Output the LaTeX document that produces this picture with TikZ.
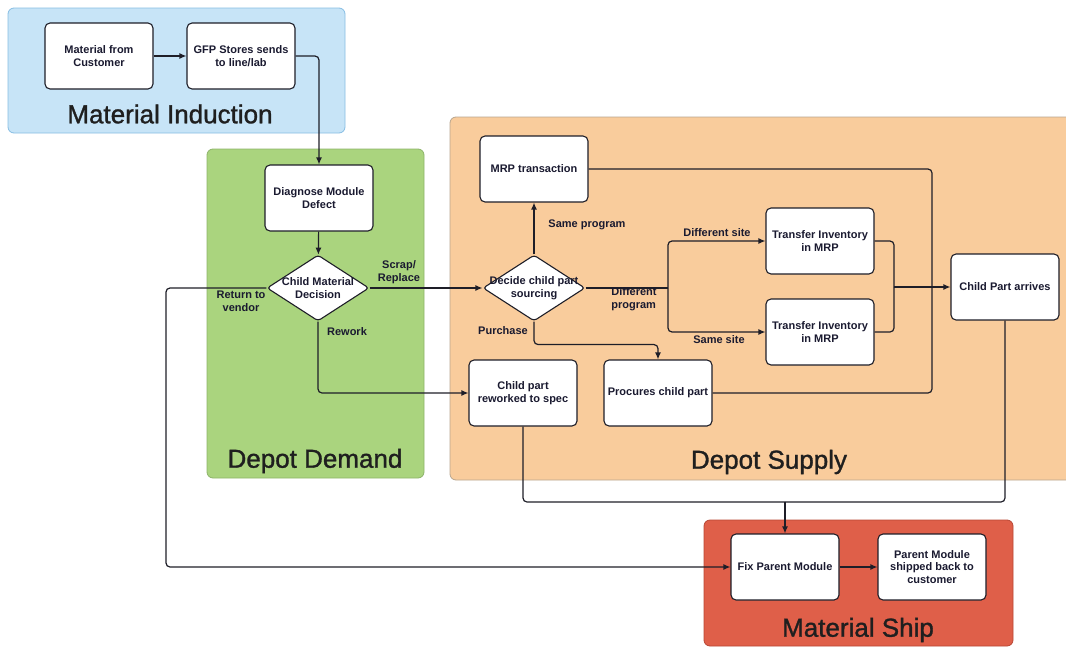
\documentclass[tikz,border=0pt]{standalone}
\usepackage{fontspec}
\setmainfont{Liberation Sans}
\newfontfamily\titlefamily[FakeBold=1.2]{Liberation Sans}
\usetikzlibrary{arrows.meta,shapes.geometric}

\definecolor{inducfill}{HTML}{C7E4F7}
\definecolor{inducline}{HTML}{86BDE3}
\definecolor{demandfill}{HTML}{AAD47E}
\definecolor{demandline}{HTML}{8DB36A}
\definecolor{supplyfill}{HTML}{F9CC9C}
\definecolor{supplyline}{HTML}{B8A58E}
\definecolor{shipfill}{HTML}{DF5F49}
\definecolor{shipline}{HTML}{B84634}
\definecolor{linec}{HTML}{1E1E28}
\definecolor{txtc}{HTML}{1A1A30}

\newcommand{\boxfont}{\fontsize{11}{12.6}\selectfont\bfseries}
\newcommand{\panelfont}{\titlefamily\fontsize{26}{29}\selectfont}

\tikzset{
  panel/.style={line width=0.8pt, rounded corners=6pt},
  box/.style={draw=linec, line width=1.1pt, fill=white, rounded corners=5pt,
    minimum width=108pt, minimum height=66pt, align=center, font=\boxfont,
    text=txtc, inner sep=2pt},
  decision/.style={diamond, draw=linec, line width=1.1pt, fill=white,
    rounded corners=3pt, minimum width=102pt, minimum height=66pt, inner sep=0pt},
  dtext/.style={align=center, font=\boxfont, text=txtc, inner sep=0pt},
  elabel/.style={align=center, font=\boxfont, text=txtc, inner sep=0pt},
  ptitle/.style={font=\panelfont, text=black!88, inner sep=0pt},
  link/.style={draw=linec, line width=1.2pt, rounded corners=4pt},
  flow/.style={link, -{Latex[length=7pt,width=6pt]}},
}

\begin{document}
\begin{tikzpicture}[x=1pt,y=-1pt]
\useasboundingbox (0,0) rectangle (1066,648);
\begin{scope}
\clip (0,0) rectangle (1066,648);

% swim-lane panels
\path[panel, draw=inducline, fill=inducfill] (8,8) rectangle (345,133);
\path[panel, draw=demandline, fill=demandfill] (207,149) rectangle (424,478);
\path[panel, draw=supplyline, fill=supplyfill] (450,117) rectangle (1085,480);
\path[panel, draw=shipline, fill=shipfill] (704,520) rectangle (1013,646);

\node[ptitle] (tInduction) at (170,114) {Material Induction};
\node[ptitle] (tDemand) at (315,461) {Depot Demand};
\node[ptitle] (tSupply) at (769,462) {Depot Supply};
\node[ptitle] (tShip) at (858,630) {Material Ship};

% process steps
\node[box] (cust) at (99,56) {Material from\\Customer};
\node[box] (gfp) at (241,56) {GFP Stores sends\\to line/lab};
\node[box] (diag) at (319,198) {Diagnose Module\\Defect};
\node[decision] (cmd) at (318,288) {};
\node[dtext] (cmdt) at (318,288) {Child Material\\Decision};
\node[box] (mrp) at (534,169) {MRP transaction};
\node[decision] (dcs) at (534,288) {};
\node[dtext] (dcst) at (534,288) {Decide child part\\sourcing};
\node[box] (tr1) at (820,241) {Transfer Inventory\\in MRP};
\node[box] (tr2) at (820,332) {Transfer Inventory\\in MRP};
\node[box] (cpa) at (1005,287) {Child Part arrives};
\node[box] (rew) at (523,393) {Child part\\reworked to spec};
\node[box] (proc) at (658,393) {Procures child part};
\node[box] (fix) at (785,567) {Fix Parent Module};
\node[box] (ship) at (932,567) {Parent Module\\shipped back to\\customer};

% junction points of the connectors
\coordinate (rv) at (166,567);
\coordinate (split) at (668,288);
\coordinate (merge) at (894,287);
\coordinate (join) at (932,287);
\coordinate (fj) at (785,502);

% connectors
\draw[flow] (cust) -- (gfp);
\draw[flow] (gfp.east) -| (diag.north);
\draw[flow] (diag) -- (cmd);
\draw[flow] (cmd.east) -- (dcs.west);
\draw[flow] (cmd.west) -| (rv) -- (fix.west);
\draw[flow] (cmd.south) |- (rew.west);
\draw[flow] (dcs.north) -- (mrp.south);
\draw[link] (dcs.east) -- (split);
\draw[flow] (split) |- (tr1.west);
\draw[flow] (split) |- (tr2.west);
\draw[link] (tr1.east) -| (merge);
\draw[link] (tr2.east) -| (merge);
\draw[flow] (merge) -- (cpa.west);
\draw[link] (mrp.east) -| (join);
\draw[link] (proc.east) -| (join);
\draw[flow] (dcs.south) -- ++(0,23) -| (proc.north);
\draw[link] (rew.south) |- (fj);
\draw[link] (cpa.south) |- (fj);
\draw[flow] (fj) -- (fix.north);
\draw[flow] (fix) -- (ship);

% connector labels
\node[elabel] (lScrap) at (399,272) {Scrap/\\Replace};
\node[elabel] (lReturn) at (241,301) {Return to\\vendor};
\node[elabel] (lRework) at (347,332) {Rework};
\node[elabel] (lSame) at (587,225) {Same program};
\node[elabel, align=left] (lDiff) at (634,299) {Different\\program};
\node[elabel] (lDsite) at (717,233) {Different site};
\node[elabel] (lSsite) at (719,340) {Same site};
\node[elabel] (lPurch) at (503,331) {Purchase};
\end{scope}
\end{tikzpicture}
\end{document}
